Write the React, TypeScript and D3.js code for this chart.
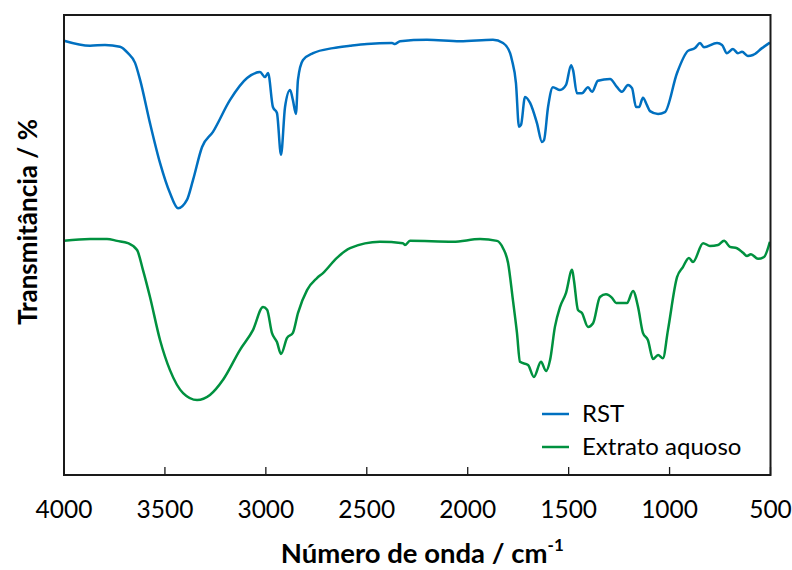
import React from "react";
import * as d3 from "d3";

const rstWave = [4000,3871,3797,3723,3683,3648,3623,3574,3524,3475,3435,3391,3361,3316,3262,3178,3093,3029,3004,2989,2965,2945,2925,2905,2880,2866,2851,2841,2816,2766,2667,2583,2499,2375,2360,2335,2202,2038,1875,1825,1790,1781,1761,1746,1736,1716,1691,1657,1632,1622,1602,1578,1543,1513,1488,1478,1459,1434,1404,1384,1355,1295,1260,1236,1206,1186,1166,1151,1132,1112,1097,1057,1023,963,909,874,849,830,765,740,716,686,661,641,612,587,542,503];
const rstT = [94.4,93.3,93.5,93.1,91.7,89.6,85.9,76.5,67.8,61.3,58.0,59.8,64.1,71.3,74.6,81.5,86.3,87.6,86.5,87.4,80.0,78.7,69.6,80.0,83.7,81.5,78.5,85.9,90.2,91.7,92.8,93.3,93.7,93.9,93.7,94.3,94.6,94.3,94.6,93.9,91.7,90.2,85.2,75.7,76.1,82.2,80.9,76.5,72.4,72.8,80.0,84.3,83.7,84.8,89.1,88.0,83.0,83.0,84.3,83.3,85.7,86.1,84.3,83.3,84.8,84.1,80.0,80.0,82.0,80.4,79.1,78.5,78.9,87.4,92.2,92.8,93.9,93.0,93.9,93.5,91.7,92.6,91.7,92.0,91.1,91.3,92.8,94.0];

const extWave = [4000,3871,3787,3737,3683,3638,3609,3574,3524,3475,3410,3341,3277,3212,3128,3064,3014,2994,2970,2945,2925,2895,2866,2841,2796,2747,2717,2648,2583,2435,2321,2311,2286,2073,1939,1855,1825,1800,1776,1756,1741,1701,1672,1637,1612,1592,1568,1543,1513,1483,1474,1454,1434,1404,1379,1345,1315,1285,1265,1211,1181,1156,1132,1107,1082,1057,1033,1008,963,934,904,884,834,800,760,730,701,666,636,617,597,562,532,503];
const extT = [50.9,51.3,51.3,50.9,50.4,48.9,44.6,38.7,29.3,22.8,17.8,16.3,17.4,20.7,27.2,31.5,36.5,35.9,30.9,28.9,26.3,29.8,30.9,35.2,40.2,42.8,43.9,47.2,49.3,50.7,50.4,50.0,50.9,50.7,51.3,50.9,49.3,46.1,38.0,30.9,24.6,23.9,21.3,24.6,22.6,25.0,32.2,36.5,39.6,44.6,42.4,35.9,35.2,32.2,33.0,38.7,39.3,38.5,37.4,37.4,40.0,36.5,30.9,29.3,25.2,26.1,25.4,31.5,43.0,45.2,47.2,46.3,50.4,49.8,50.0,50.9,49.6,49.3,48.3,47.6,48.0,47.0,47.4,50.7];

const xTicks = [4000, 3500, 3000, 2500, 2000, 1500, 1000, 500];
const seriesNames = ["RST", "Extrato aquoso"];
const seriesColors = ["#0070C0", "#00913F"];

export default function App() {
  const W = 792, H = 570;
  const left = 64, right = 770.5, top = 15, bottom = 475;
  const x = d3.scaleLinear().domain([4000, 500]).range([left, right]);
  const y = d3.scaleLinear().domain([0, 100]).range([bottom, top]);
  const line = d3
    .line<[number, number]>()
    .x((d) => x(d[0]))
    .y((d) => y(d[1]))
    .curve(d3.curveMonotoneX);
  const series = [
    rstWave.map((w, i) => [w, rstT[i]] as [number, number]),
    extWave.map((w, i) => [w, extT[i]] as [number, number]),
  ];
  const font = "Lato, 'Open Sans', sans-serif";
  return (
    <svg width={W} height={H} style={{ position: "absolute", left: 0, top: 0, background: "#fff" }} fontFamily={font}>
      <rect x={0} y={0} width={W} height={H} fill="#fff" />
      {series.map((s, i) => (
        <path key={i} d={line(s) || ""} fill="none" stroke={seriesColors[i]} strokeWidth={2.5} strokeLinejoin="round" />
      ))}
      <rect x={left} y={top} width={right - left} height={bottom - top} fill="none" stroke="#1a1a1a" strokeWidth={2} />
      {xTicks.map((t) => (
        <g key={t}>
          <line x1={x(t)} x2={x(t)} y1={bottom} y2={bottom - 8} stroke="#1a1a1a" strokeWidth={1.3} />
          <text x={x(t)} y={518} textAnchor="middle" fontSize={24.5} fill="#000">{t}</text>
        </g>
      ))}
      <text x={(left + right) / 2 + 5} y={563} textAnchor="middle" fontSize={27.5} fontWeight="bold" fill="#000">
        Número de onda / cm<tspan fontSize={17} dy={-12}>-1</tspan>
      </text>
      <text transform={`translate(37, 222) rotate(-90)`} textAnchor="middle" fontSize={26} fontWeight="bold" fill="#000">
        Transmitância / %
      </text>
      {seriesNames.map((n, i) => (
        <g key={n}>
          <line x1={542} x2={569} y1={414 + i * 33} y2={414 + i * 33} stroke={seriesColors[i]} strokeWidth={2.5} />
          <text x={582} y={422 + i * 33} fontSize={24} fill="#000">{n}</text>
        </g>
      ))}
    </svg>
  );
}
